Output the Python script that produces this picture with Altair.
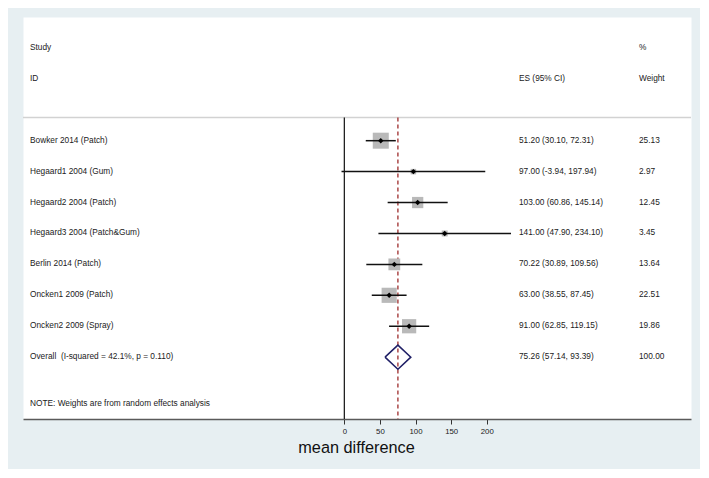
import altair as alt
import pandas as pd

# ---- data ----
studies = ["Bowker 2014 (Patch)", "Hegaard1 2004 (Gum)", "Hegaard2 2004 (Patch)",
           "Hegaard3 2004 (Patch&Gum)", "Berlin 2014 (Patch)", "Oncken1 2009 (Patch)",
           "Oncken2 2009 (Spray)"]
es = [51.20, 97.00, 103.00, 141.00, 70.22, 63.00, 91.00]
lower = [30.10, -3.94, 60.86, 47.90, 30.89, 38.55, 62.85]
upper = [72.31, 197.94, 145.14, 234.10, 109.56, 87.45, 119.15]
weights = [25.13, 2.97, 12.45, 3.45, 13.64, 22.51, 19.86]

overall_label = "Overall\u00a0 (I-squared = 42.1%, p = 0.110)"
overall_es, overall_lo, overall_hi = 75.26, 57.14, 93.39
overall_weight = 100.00
note = "NOTE: Weights are from random effects analysis"
x_ticks = [0, 50, 100, 150, 200]

# ---- tables ----
rows = list(range(len(studies)))
studies_df = pd.DataFrame({
    "row": rows, "study": studies, "es": es, "lo": lower, "hi": upper,
    "w": weights, "sz": [w * 10.2 for w in weights],
    "es_txt": [f"{e:.2f} ({l:.2f}, {h:.2f})" for e, l, h in zip(es, lower, upper)],
    "w_txt": [f"{w:.2f}" for w in weights],
})
ov_row = len(studies)
table_df = pd.concat([
    studies_df[["row", "study", "es_txt", "w_txt"]],
    pd.DataFrame({"row": [ov_row], "study": [overall_label],
                  "es_txt": [f"{overall_es:.2f} ({overall_lo:.2f}, {overall_hi:.2f})"],
                  "w_txt": [f"{overall_weight:.2f}"]}),
])
half_h = 0.39
diamond_df = pd.DataFrame({
    "x": [overall_lo, overall_es, overall_hi, overall_es, overall_lo],
    "y": [ov_row, ov_row - half_h, ov_row, ov_row + half_h, ov_row],
    "o": [0, 1, 2, 3, 4],
})
headers_left = pd.DataFrame({"row": [-3, -2, ov_row + 1.52], "t": ["Study", "ID", note]})
headers_es = pd.DataFrame({"row": [-2], "t": ["ES (95% CI)"]})
headers_w = pd.DataFrame({"row": [-3, -2], "t": ["%", "Weight"]})

W, H = 668, 402
xscale = alt.Scale(domain=[-451.3, 486.9], nice=False, zero=False)
yscale = alt.Scale(domain=[-4, 9], nice=False, zero=False, reverse=True)
FONT = "Liberation Sans"
FS = 8.3
TXT = "#1a1a1a"
top_line = -0.75

xaxis = alt.Axis(values=x_ticks, grid=False, labelFontSize=7.8, labelColor=TXT,
                 labelFont=FONT, tickSize=5, tickColor="#333", tickWidth=1,
                 domainColor="#5a5a5a", domainWidth=1.6, labelPadding=3,
                 title="mean difference", titleFont=FONT, titleFontSize=16.3,
                 titleFontWeight="normal", titleColor="#111", titleX=333,
                 titleY=28, titleBaseline="middle", titleAlign="center")

base_x = alt.X("es:Q", scale=xscale, axis=xaxis)

hline = alt.Chart(pd.DataFrame({"y": [top_line]})).mark_rule(
    color="#d2d2d2", strokeWidth=1.6).encode(
    y=alt.Y("y:Q", scale=yscale, axis=None))

vzero = alt.Chart(pd.DataFrame({"x": [0], "y": [top_line], "y2": [9]})).mark_rule(
    color="#111", strokeWidth=1.2).encode(
    x=alt.X("x:Q", scale=xscale, axis=xaxis),
    y=alt.Y("y:Q", scale=yscale, axis=None), y2="y2:Q")

vdash = alt.Chart(pd.DataFrame({"x": [overall_es], "y": [top_line], "y2": [9]})).mark_rule(
    color="#9e2b2b", strokeWidth=1.3, strokeDash=[4, 3]).encode(
    x=alt.X("x:Q", scale=xscale, axis=xaxis),
    y=alt.Y("y:Q", scale=yscale, axis=None), y2="y2:Q")

squares = alt.Chart(studies_df).mark_square(color="#b9b9b9", opacity=1, filled=True).encode(
    x=base_x, y=alt.Y("row:Q", scale=yscale, axis=None),
    size=alt.Size("sz:Q", scale=None, legend=None))

ci = alt.Chart(studies_df).mark_rule(color="#111", strokeWidth=1.5).encode(
    x=alt.X("lo:Q", scale=xscale, axis=xaxis), x2="hi:Q",
    y=alt.Y("row:Q", scale=yscale, axis=None))

pts = alt.Chart(studies_df).mark_point(shape="diamond", filled=True, color="#000",
                                       size=30, opacity=1).encode(
    x=base_x, y=alt.Y("row:Q", scale=yscale, axis=None))

diamond = alt.Chart(diamond_df).mark_line(color="#1f1f66", strokeWidth=1.5).encode(
    x=alt.X("x:Q", scale=xscale, axis=xaxis),
    y=alt.Y("y:Q", scale=yscale, axis=None), order="o:Q")

def txt(df, field, xpix):
    return alt.Chart(df).mark_text(align="left", baseline="middle", font=FONT,
                                   fontSize=FS, color=TXT).encode(
        x=alt.value(xpix), y=alt.Y("row:Q", scale=yscale, axis=None), text=f"{field}:N")

labels = txt(table_df, "study", 7)
es_col = txt(table_df, "es_txt", 496)
w_col = txt(table_df, "w_txt", 616)
h1 = txt(headers_left, "t", 7)
h2 = txt(headers_es, "t", 496)
h3 = txt(headers_w, "t", 616)

chart = alt.layer(
    hline, vdash, vzero, squares, ci, pts, diamond, labels, es_col, w_col, h1, h2, h3
).properties(
    width=W, height=H,
    autosize=alt.AutoSizeParams(type="none"),
    padding={"left": 15, "top": 9, "right": 9, "bottom": 50},
    background="#e7eff2",
).configure_view(fill="white", stroke="transparent")

chart.save("out.html", embed_options={"renderer": "svg", "actions": False})
